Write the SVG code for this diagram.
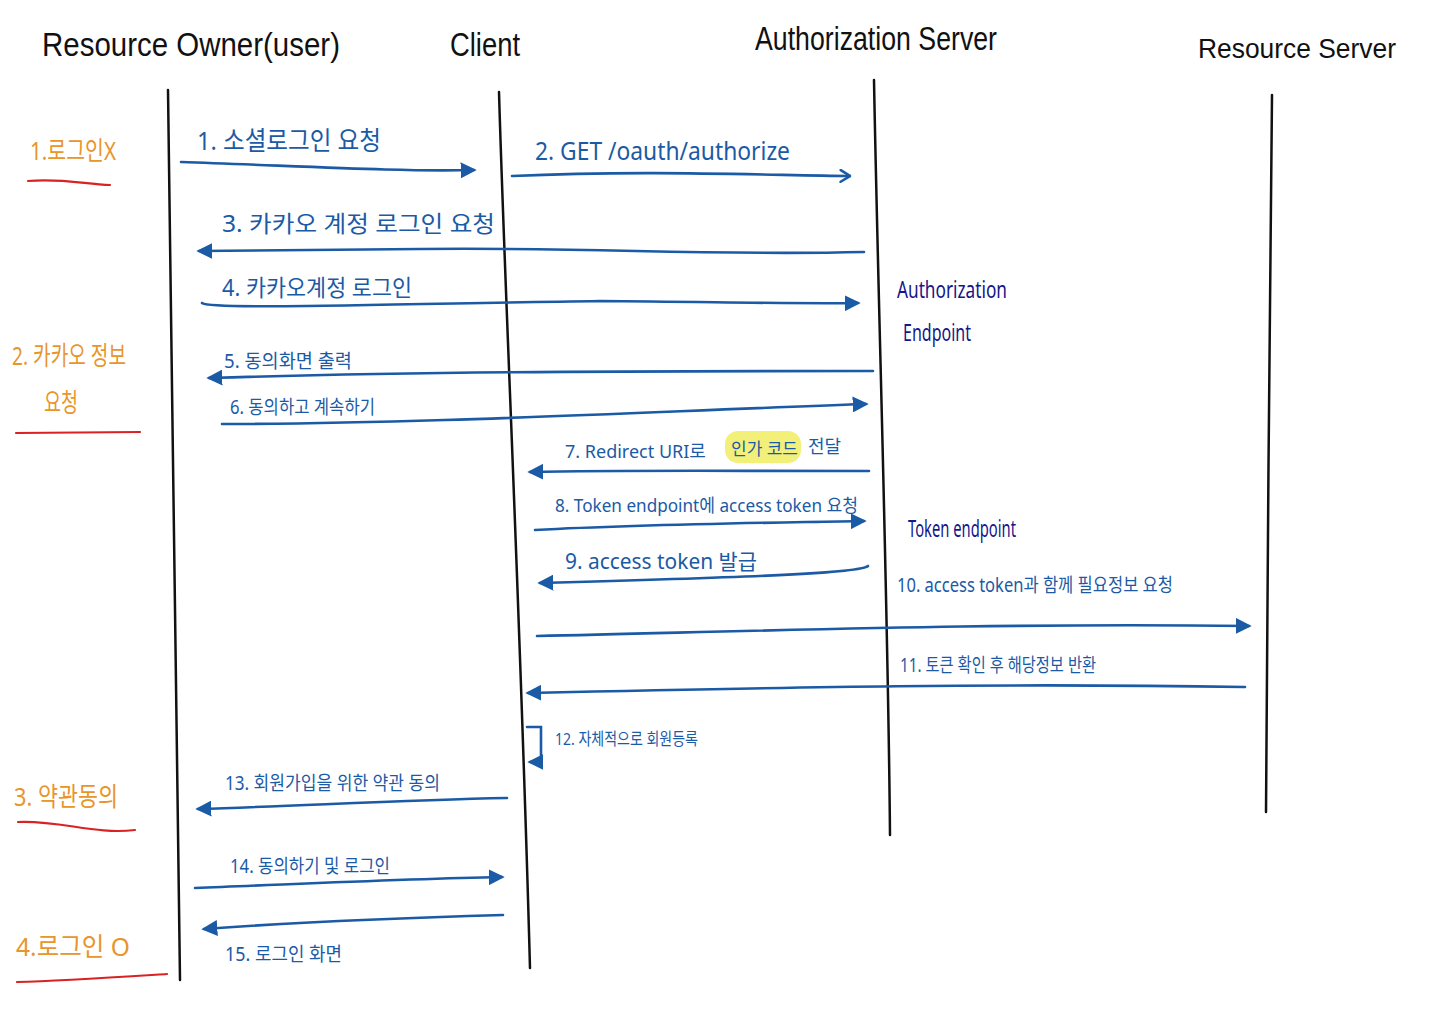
<svg xmlns="http://www.w3.org/2000/svg" width="1440" height="1018" viewBox="0 0 1440 1018">
<style>
.hd{font-family:"Liberation Sans","Noto Sans",sans-serif;fill:#111}
.life{fill:none;stroke:#111;stroke-width:2.5;stroke-linecap:round}
.msg{fill:none;stroke:#1b5aa5;stroke-width:2.6;stroke-linecap:round}
.ml{font-family:"Noto Sans","Noto Sans CJK KR",sans-serif;fill:#1b5aa5}
.note{font-family:"Noto Sans","Noto Sans CJK KR",sans-serif;font-size:24px;fill:#15168a}
.or{font-family:"Noto Sans","Noto Sans CJK KR",sans-serif;font-size:26px;fill:#e8952b}
.ul{fill:none;stroke:#d92222;stroke-width:2.2;stroke-linecap:round}
</style>
<defs>
<marker id="ah" viewBox="0 0 12 12" refX="10" refY="6" markerWidth="16" markerHeight="16" markerUnits="userSpaceOnUse" orient="auto">
<path d="M0,0 L12,6 L0,12 Z" fill="#1b5aa5"/>
</marker>
<marker id="ao" viewBox="0 0 12 12" refX="11" refY="6" markerWidth="14" markerHeight="14" markerUnits="userSpaceOnUse" orient="auto">
<path d="M3,1 L11,6 L3,11" fill="none" stroke="#1b5aa5" stroke-width="2.2" stroke-linecap="round"/>
</marker>
</defs>
<rect width="1440" height="1018" fill="#ffffff"/>

<g id="owner">
<text class="hd" x="42" y="56" font-size="34" textLength="298" lengthAdjust="spacingAndGlyphs">Resource Owner(user)</text>
<path class="life" d="M168,90 C170,300 176,600 180,980"/>
</g>
<g id="client">
<text class="hd" x="450" y="56" font-size="34" textLength="70" lengthAdjust="spacingAndGlyphs">Client</text>
<path class="life" d="M499,92 C505,300 520,600 530,968"/>
</g>
<g id="authserver">
<text class="hd" x="755" y="50" font-size="34" textLength="242" lengthAdjust="spacingAndGlyphs">Authorization Server</text>
<path class="life" d="M874,80 C878,300 888,600 890,835"/>
<text class="note" x="897" y="298" textLength="110" lengthAdjust="spacingAndGlyphs">Authorization</text>
<text class="note" x="903" y="341" textLength="68" lengthAdjust="spacingAndGlyphs">Endpoint</text>
<text class="note" x="908" y="537" textLength="108" lengthAdjust="spacingAndGlyphs">Token endpoint</text>
</g>
<g id="resourceserver">
<text class="hd" x="1198" y="58" font-size="28" textLength="198" lengthAdjust="spacingAndGlyphs">Resource Server</text>
<path class="life" d="M1272,95 C1270,300 1267,600 1266,812"/>
</g>

<g id="phases">
<text class="or" x="30" y="160" textLength="86" lengthAdjust="spacingAndGlyphs">1.로그인X</text>
<path class="ul" d="M28,181 C60,178 85,184 110,185"/>
<text class="or" x="12" y="365" textLength="114" lengthAdjust="spacingAndGlyphs">2. 카카오 정보</text>
<text class="or" x="44" y="412" textLength="34" lengthAdjust="spacingAndGlyphs">요청</text>
<path class="ul" d="M16,433 L140,432"/>
<text class="or" x="14" y="806" textLength="104" lengthAdjust="spacingAndGlyphs">3. 약관동의</text>
<path class="ul" d="M18,822 C60,820 95,835 135,830"/>
<text class="or" x="16" y="956" textLength="114" lengthAdjust="spacingAndGlyphs">4.로그인 O</text>
<path class="ul" d="M17,982 C60,981 120,977 167,974"/>
</g>

<g id="connectors">
<path class="msg" d="M181,162 C300,166 400,172 474,170" marker-end="url(#ah)"/>
<path class="msg" d="M512,176 C640,170 760,175 850,176" marker-end="url(#ao)"/>
<path class="msg" d="M864,252 C700,256 600,247 420,249 C330,250 260,251 199,251" marker-end="url(#ah)"/>
<path class="msg" d="M202,303 C210,310 400,304 600,301 C720,302 800,304 858,303" marker-end="url(#ah)"/>
<path class="msg" d="M873,371 C600,371 400,372 209,378" marker-end="url(#ah)"/>
<path class="msg" d="M222,424 C420,424 640,412 866,404" marker-end="url(#ah)"/>
<path class="msg" d="M869,471 C700,471 620,470 530,472" marker-end="url(#ah)"/>
<path class="msg" d="M535,530 C650,524 760,523 864,521" marker-end="url(#ah)"/>
<path class="msg" d="M868,566 C860,573 760,577 540,583" marker-end="url(#ah)"/>
<path class="msg" d="M537,636 C800,630 1000,623 1249,626" marker-end="url(#ah)"/>
<path class="msg" d="M1245,687 C1000,683 800,687 528,693" marker-end="url(#ah)"/>
<path class="msg" d="M527,727 L541,727 L541,762 L530,762" marker-end="url(#ah)"/>
<path class="msg" d="M507,798 C400,800 300,806 198,809" marker-end="url(#ah)"/>
<path class="msg" d="M195,888 C300,884 400,879 502,877" marker-end="url(#ah)"/>
<path class="msg" d="M503,915 C400,918 300,922 204,929" marker-end="url(#ah)"/>
</g>

<g id="labels">
<rect x="725" y="431" width="76" height="32" rx="13" fill="#f3f07a"/>
<text class="ml" x="197" y="150" font-size="26" textLength="184" lengthAdjust="spacingAndGlyphs">1. 소셜로그인 요청</text>
<text class="ml" x="535" y="160" font-size="26" textLength="255" lengthAdjust="spacingAndGlyphs">2. GET /oauth/authorize</text>
<text class="ml" x="222" y="232" font-size="23" textLength="273" lengthAdjust="spacingAndGlyphs">3. 카카오 계정     로그인 요청</text>
<text class="ml" x="222" y="296" font-size="23" textLength="190" lengthAdjust="spacingAndGlyphs">4. 카카오계정   로그인</text>
<text class="ml" x="224" y="368" font-size="19" textLength="128" lengthAdjust="spacingAndGlyphs">5. 동의화면 출력</text>
<text class="ml" x="230" y="414" font-size="19" textLength="145" lengthAdjust="spacingAndGlyphs">6. 동의하고 계속하기</text>
<text class="ml" font-size="18"><tspan x="565" y="458">7. Redirect URI로</tspan><tspan x="731" y="455" font-size="17">인가 코드</tspan><tspan x="808" y="453">전달</tspan></text>
<text class="ml" x="555" y="512" font-size="18" textLength="303" lengthAdjust="spacingAndGlyphs">8. Token endpoint에 access token 요청</text>
<text class="ml" x="565" y="569" font-size="21" textLength="192" lengthAdjust="spacingAndGlyphs">9. access token 발급</text>
<text class="ml" x="897" y="592" font-size="19" textLength="276" lengthAdjust="spacingAndGlyphs">10. access token과 함께 필요정보 요청</text>
<text class="ml" x="900" y="672" font-size="19" textLength="196" lengthAdjust="spacingAndGlyphs">11. 토큰 확인 후 해당정보 반환</text>
<text class="ml" x="555" y="745" font-size="17" textLength="143" lengthAdjust="spacingAndGlyphs">12. 자체적으로 회원등록</text>
<text class="ml" x="225" y="790" font-size="19" textLength="215" lengthAdjust="spacingAndGlyphs">13. 회원가입을 위한 약관 동의</text>
<text class="ml" x="230" y="873" font-size="19" textLength="160" lengthAdjust="spacingAndGlyphs">14. 동의하기 및 로그인</text>
<text class="ml" x="225" y="961" font-size="19" textLength="117" lengthAdjust="spacingAndGlyphs">15. 로그인 화면</text>
</g>
</svg>
